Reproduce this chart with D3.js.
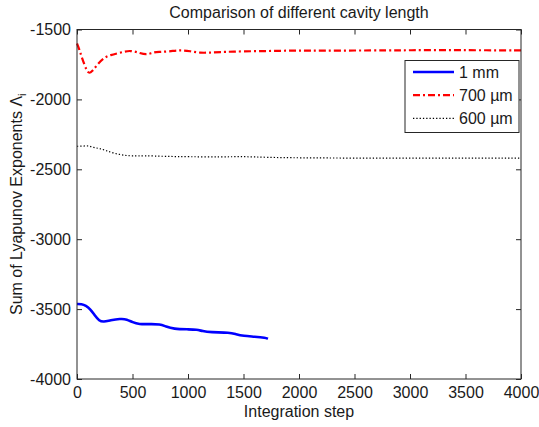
<!DOCTYPE html>
<html>
<head>
<meta charset="utf-8">
<script src="https://cdn.jsdelivr.net/npm/d3@7"></script>
<style>
  html, body { margin: 0; padding: 0; background: #fff; }
  svg text { font-family: "Liberation Sans", Arial, Helvetica, sans-serif; fill: #1a1a1a; }
</style>
</head>
<body>
<svg id="chart" width="539" height="427"></svg>
<script>
// Sum of Lyapunov exponents for three cavity lengths
const steps1mm = [0, 40, 80, 120, 160, 200, 240, 300, 390, 450, 500, 560, 650, 750, 800, 870, 1000, 1080, 1130, 1200, 1380, 1430, 1500, 1600, 1700, 1720];
const values1mm = [-3463, -3463, -3475, -3500, -3545, -3585, -3592, -3580, -3569, -3572, -3595, -3609, -3607, -3607, -3625, -3642, -3645, -3646, -3658, -3666, -3668, -3680, -3692, -3697, -3705, -3712];

const steps700 = [0, 20, 45, 90, 111, 135, 180, 237, 300, 390, 480, 570, 630, 690, 750, 850, 930, 1020, 1110, 1200, 1290, 1400, 1600, 1800, 2000, 2200, 2500, 2800, 3000, 3300, 3600, 4000];
const values700 = [-1600, -1640, -1704, -1802, -1813, -1802, -1754, -1704, -1682, -1666, -1647, -1670, -1682, -1661, -1661, -1655, -1647, -1655, -1668, -1665, -1661, -1658, -1655, -1653, -1650, -1652, -1650, -1650, -1648, -1648, -1648, -1650];

const steps600 = [0, 50, 100, 150, 200, 260, 330, 420, 500, 600, 800, 1000, 1300, 1500, 1700, 2000, 2500, 3000, 3500, 4000];
const values600 = [-2335, -2335, -2330, -2345, -2350, -2365, -2385, -2400, -2405, -2402, -2408, -2410, -2412, -2408, -2415, -2418, -2420, -2420, -2420, -2420];

const xTicks = [0, 500, 1000, 1500, 2000, 2500, 3000, 3500, 4000];
const yTicks = [-4000, -3500, -3000, -2500, -2000, -1500];

const seriesNames = ["1 mm", "700 \u00b5m", "600 \u00b5m"];

const svg = d3.select("#chart");
const margin = { left: 77, right: 18, top: 29.5, bottom: 48 };
const W = 539, H = 427;
const iw = W - margin.left - margin.right;
const ih = H - margin.top - margin.bottom;

const x = d3.scaleLinear().domain([0, 4000]).range([margin.left, margin.left + iw]);
const y = d3.scaleLinear().domain([-4000, -1500]).range([margin.top + ih, margin.top]);

const series = [
  { name: seriesNames[0], xs: steps1mm, ys: values1mm, color: "#0000ff", width: 2.6, dash: null },
  { name: seriesNames[1], xs: steps700, ys: values700, color: "#ff0000", width: 2.2, dash: "7,3,2,3" },
  { name: seriesNames[2], xs: steps600, ys: values600, color: "#000000", width: 1.2, dash: "1.3,2" }
];

const line = d3.line().x(d => x(d[0])).y(d => y(d[1])).curve(d3.curveBasis);

const plot = svg.append("g");
series.forEach(s => {
  const pts = s.xs.map((v, i) => [v, s.ys[i]]);
  plot.append("path")
    .attr("d", line(pts))
    .attr("fill", "none")
    .attr("stroke", s.color)
    .attr("stroke-width", s.width)
    .attr("stroke-dasharray", s.dash)
    .attr("stroke-linejoin", "round");
});

// Axes: ticks point inward on all four sides; plain hyphen for negatives
const fontSize = 16;
const fmt = d => String(d);
const axisStyle = g => {
  g.select(".domain").remove();
  g.selectAll(".tick line").attr("stroke", "#262626");
  g.selectAll(".tick text").attr("font-size", fontSize).attr("font-family", "Liberation Sans, Arial, sans-serif").attr("fill", "#1a1a1a");
};

svg.append("g")
  .attr("transform", `translate(0,${margin.top + ih})`)
  .call(d3.axisBottom(x).tickValues(xTicks).tickFormat(fmt).tickSizeInner(-5).tickSizeOuter(0).tickPadding(8))
  .call(axisStyle);

svg.append("g")
  .attr("transform", `translate(0,${margin.top})`)
  .call(d3.axisTop(x).tickValues(xTicks).tickFormat("").tickSizeInner(-5).tickSizeOuter(0))
  .call(axisStyle);

svg.append("g")
  .attr("transform", `translate(${margin.left},0)`)
  .call(d3.axisLeft(y).tickValues(yTicks).tickFormat(fmt).tickSizeInner(-5).tickSizeOuter(0).tickPadding(6))
  .call(axisStyle);

svg.append("g")
  .attr("transform", `translate(${margin.left + iw},0)`)
  .call(d3.axisRight(y).tickValues(yTicks).tickFormat("").tickSizeInner(-5).tickSizeOuter(0))
  .call(axisStyle);

// Plot box
svg.append("rect")
  .attr("x", margin.left).attr("y", margin.top)
  .attr("width", iw).attr("height", ih)
  .attr("fill", "none").attr("stroke", "#262626").attr("stroke-width", 1);

// Title and axis labels
svg.append("text")
  .attr("x", margin.left + iw / 2).attr("y", 18)
  .attr("text-anchor", "middle").attr("font-size", fontSize)
  .text("Comparison of different cavity length");

svg.append("text")
  .attr("x", margin.left + iw / 2).attr("y", 417)
  .attr("text-anchor", "middle").attr("font-size", fontSize)
  .text("Integration step");

const yl = svg.append("text")
  .attr("transform", `translate(22,${margin.top + ih / 2}) rotate(-90)`)
  .attr("text-anchor", "middle").attr("font-size", fontSize);
yl.append("tspan").text("Sum of Lyapunov Exponents \u039b");
yl.append("tspan").attr("font-size", 11).attr("dy", 4).text("i");

// Legend
const lg = svg.append("g");
lg.append("rect")
  .attr("x", 405).attr("y", 60.5).attr("width", 114).attr("height", 72)
  .attr("fill", "#fff").attr("stroke", "#262626").attr("stroke-width", 1);
series.forEach((s, i) => {
  const ly = 72 + i * 23.2;
  lg.append("line")
    .attr("x1", 413).attr("x2", 454).attr("y1", ly).attr("y2", ly)
    .attr("stroke", s.color).attr("stroke-width", s.width)
    .attr("stroke-dasharray", s.dash);
  lg.append("text")
    .attr("x", 459).attr("y", ly + 6)
    .attr("font-size", fontSize)
    .text(s.name);
});
</script>
</body>
</html>
